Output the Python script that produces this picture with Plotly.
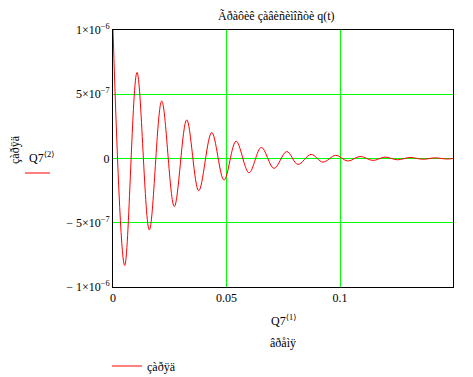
import plotly.graph_objects as go

# extrema of the damped charge curve (time s, charge C)
t_vals = [0.0, 0.00515, 0.01057, 0.0160, 0.02145, 0.0270, 0.03246, 0.03775, 0.04348,
          0.0489, 0.0542, 0.0599, 0.0653, 0.0709, 0.0765, 0.0814, 0.0872, 0.0924,
          0.0981, 0.1034, 0.1088, 0.1144, 0.1198, 0.1252, 0.1308, 0.1364, 0.1418,
          0.1470, 0.1497]
q_vals = [1.0e-6, -8.32e-7, 6.69e-7, -5.56e-7, 4.47e-7, -3.74e-7, 3.01e-7, -2.51e-7, 2.02e-7,
          -1.68e-7, 1.34e-7, -1.11e-7, 8.7e-8, -7.7e-8, 5.4e-8, -4.6e-8, 3.2e-8, -2.8e-8,
          2.5e-8, -2.0e-8, 1.6e-8, -1.5e-8, 1.1e-8, -1.0e-8, 8e-9, -6e-9, 5e-9,
          -4e-9, 0.0]

x_ticks = [0, 0.05, 0.1]
x_ticktext = ["0", "0.05", "0.1"]
y_ticks = [1e-6, 5e-7, 0, -5e-7, -1e-6]
y_ticktext = ["1×10<sup>−6</sup>", "5×10<sup>−7</sup>", "0",
              "− 5×10<sup>−7</sup>", "− 1×10<sup>−6</sup>"]

title_text = "Ãðàôèê çàâèñèìîñòè q(t)"
x_label = "Q7<sup>⟨1⟩</sup>"
x_sub = "âðåìÿ"
y_label = "Q7<sup>⟨2⟩</sup>"
y_sub = "çàðÿä"
series_name = "çàðÿä"

FONT = "Times New Roman, Liberation Serif, DejaVu Serif, serif"
L, R, T, B = 113, 20, 30, 90
W, H = 473, 377
PW, PH = W - L - R, H - T - B

def px(xp):
    return (xp - L) / PW

def py(yp):
    return (H - B - yp) / PH

fig = go.Figure()
fig.add_trace(go.Scatter(x=t_vals, y=q_vals, mode="lines", name=series_name,
                         line=dict(color="#ff0000", width=1, shape="spline", smoothing=1.0)))

fig.update_layout(
    width=W, height=H, margin=dict(l=L, r=R, t=T, b=B, autoexpand=False),
    paper_bgcolor="white", plot_bgcolor="white",
    font=dict(family=FONT, size=12, color="black"),
    showlegend=True,
    legend=dict(x=px(107), y=py(366), xanchor="left", yanchor="middle",
                bgcolor="rgba(0,0,0,0)", font=dict(family=FONT, size=12),
                itemwidth=30),
    xaxis=dict(range=[0, 0.1497], tickvals=x_ticks, ticktext=x_ticktext,
               showgrid=True, gridcolor="#00ff00", gridwidth=1, zeroline=False,
               showline=True, linecolor="black", linewidth=1, mirror=True,
               ticks="", tickfont=dict(family=FONT, size=12)),
    yaxis=dict(range=[-1e-6, 1e-6], tickvals=y_ticks, ticktext=y_ticktext,
               showgrid=True, gridcolor="#00ff00", gridwidth=1, zeroline=False,
               showline=True, linecolor="black", linewidth=1, mirror=True,
               ticks="", tickfont=dict(family=FONT, size=12)),
)

ann = [
    dict(text=title_text, x=px(276.5), y=py(16), xanchor="center", yanchor="middle"),
    dict(text=x_label, x=px(283), y=py(320), xanchor="center", yanchor="middle"),
    dict(text=x_sub, x=px(283), y=py(343), xanchor="center", yanchor="middle"),
    dict(text=y_label, x=px(41), y=py(157), xanchor="center", yanchor="middle"),
    dict(text=y_sub, x=px(15), y=py(150), xanchor="center", yanchor="middle", textangle=-90),
]
for a in ann:
    fig.add_annotation(xref="paper", yref="paper", showarrow=False,
                       font=dict(family=FONT, size=12, color="black"), **a)

fig.add_shape(type="line", xref="paper", yref="paper",
              x0=px(25), x1=px(50), y0=py(173), y1=py(173),
              line=dict(color="#ff0000", width=1))

fig.write_html("out.html")
